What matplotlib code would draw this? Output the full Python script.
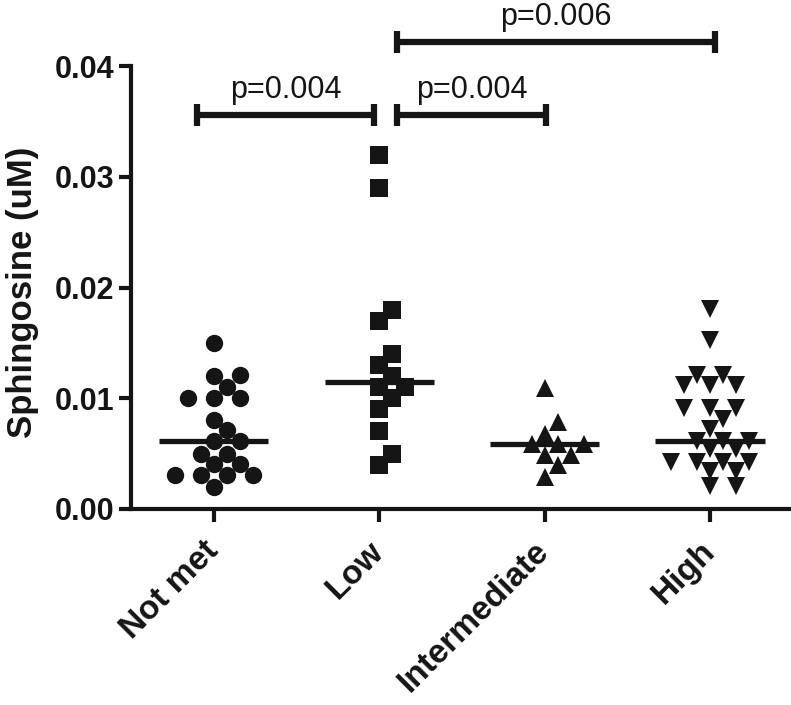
import numpy as np
import matplotlib
matplotlib.use('Agg')
import matplotlib.pyplot as plt

plt.rcParams['font.family'] = ['Liberation Sans', 'DejaVu Sans']

groups = ['Not met', 'Low', 'Intermediate', 'High']
markers = ['o', 's', '^', 'v']

not_met = [0.0150, 0.0120, 0.0121, 0.0110, 0.0100, 0.0100, 0.0100, 0.0080, 0.0071,
           0.0061, 0.0061, 0.0050, 0.0050, 0.0041, 0.0041, 0.0031, 0.0031, 0.0031,
           0.0031, 0.0020]
low = [0.0320, 0.0290, 0.0180, 0.0170, 0.0140, 0.0130, 0.0120, 0.0110, 0.0110,
       0.0100, 0.0090, 0.0070, 0.0050, 0.0040]
intermediate = [0.0109, 0.0079, 0.0068, 0.0059, 0.0059, 0.0059, 0.0049, 0.0049,
                0.0040, 0.0029]
high = [0.0181, 0.0153, 0.0121, 0.0121, 0.0112, 0.0112, 0.0112, 0.0091, 0.0091,
        0.0091, 0.0081, 0.0072, 0.0061, 0.0061, 0.0061, 0.0054, 0.0054, 0.0042,
        0.0042, 0.0042, 0.0042, 0.0034, 0.0034, 0.0021, 0.0021]
data = [not_met, low, intermediate, high]

# comparisons: (x start, x end, bar height, label)
brackets = [(-0.10, 0.97, 0.0356, 'p=0.004'),
            (1.11, 2.01, 0.0356, 'p=0.004'),
            (1.11, 3.03, 0.0422, 'p=0.006')]

ink = '#151515'

fig = plt.figure(figsize=(7.91, 7.05), dpi=100)
ax = fig.add_axes([131 / 791, 1 - 509 / 705, 660 / 791, 443 / 705])
ax.set_xlim(-0.5, 3.49)
ax.set_ylim(0, 0.04)


def swarm(vals, center, step=13.0, dmin=14.0):
    # simple beeswarm in pixel space
    vals = np.asarray(vals)
    pix = ax.transData.transform(np.column_stack([np.full(len(vals), center), vals]))
    xpu = ax.transData.transform((1, 0))[0] - ax.transData.transform((0, 0))[0]
    placed = []
    offs = np.zeros(len(vals))
    cands = [0]
    for k in range(1, 12):
        cands += [k, -k]
    for i in np.argsort(vals):
        y = pix[i, 1]
        for k in cands:
            x = k * step
            if all((x - px) ** 2 + (y - py) ** 2 >= dmin ** 2 for px, py in placed):
                break
        placed.append((x, y))
        offs[i] = x
    return center + offs / xpu


for i, (vals, m) in enumerate(zip(data, markers)):
    xs = swarm(vals, i)
    ax.plot(xs, vals, linestyle='none', marker=m, ms=12.5, color=ink, mew=0,
            clip_on=False, zorder=3)
    med = np.median(vals)
    ax.plot([i - 0.33, i + 0.33], [med, med], color=ink, lw=3.8, zorder=4,
            solid_capstyle='butt')

cap = 0.001
for x0, x1, y, lab in brackets:
    ax.plot([x0, x1], [y, y], color=ink, lw=4.5, clip_on=False, solid_capstyle='butt')
    for xx in (x0, x1):
        ax.plot([xx, xx], [y - cap, y + cap], color=ink, lw=4.5, clip_on=False,
                solid_capstyle='butt')
    ax.text((x0 + x1) / 2, y + 0.0009, lab, ha='center', va='bottom', fontsize=22,
            color=ink)

for s in ('top', 'right'):
    ax.spines[s].set_visible(False)
for s in ('left', 'bottom'):
    ax.spines[s].set_linewidth(3)
    ax.spines[s].set_color(ink)

ax.set_yticks([0, 0.01, 0.02, 0.03, 0.04])
ax.set_yticklabels(['0.00', '0.01', '0.02', '0.03', '0.04'], fontsize=22,
                   fontweight='bold')
ax.set_xticks(range(len(groups)))
ax.set_xticklabels(groups, fontsize=24, fontweight='bold', rotation=45, ha='right',
                   va='center', rotation_mode='anchor')
ax.tick_params(axis='both', length=9, width=3, color=ink, labelcolor=ink)
ax.tick_params(axis='x', pad=18)
ax.tick_params(axis='y', pad=3)

ax.set_ylabel('Sphingosine (uM)', fontsize=25, fontweight='bold', color=ink)
ax.yaxis.set_label_coords(-0.139, 0.49)

fig.savefig('out.png', dpi=100)
